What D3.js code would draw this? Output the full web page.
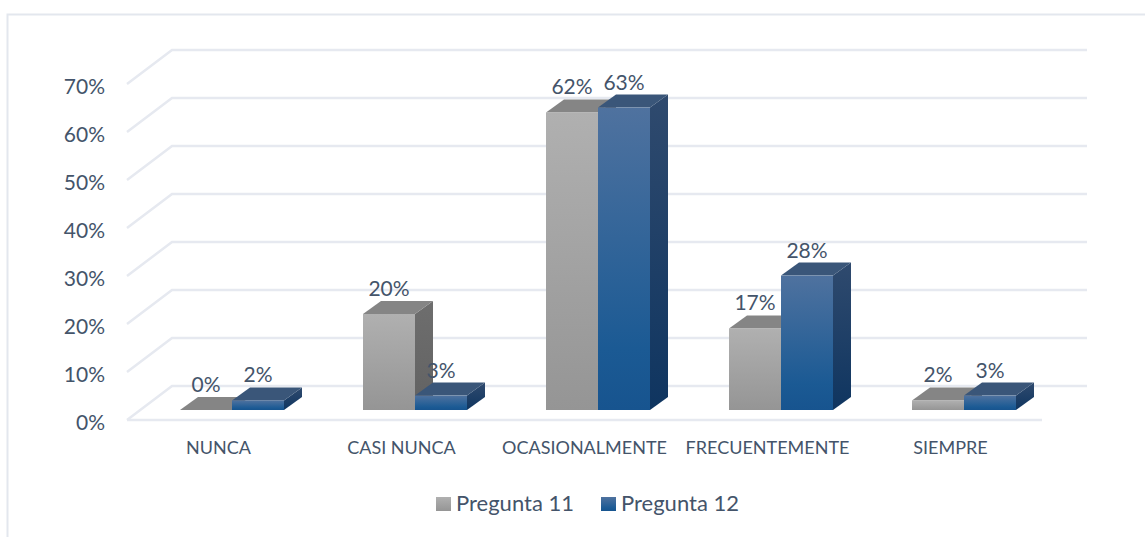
<!DOCTYPE html>
<html><head><meta charset="utf-8">
<script src="https://cdn.jsdelivr.net/npm/d3@7/dist/d3.min.js"></script>
<style>html,body{margin:0;background:#fff}svg{display:block}text{font-family:Lato,"Open Sans",sans-serif;fill:#44546a}</style>
</head><body><div id="c"></div>
<script>
const categories=["NUNCA","CASI NUNCA","OCASIONALMENTE","FRECUENTEMENTE","SIEMPRE"];
const seriesNames=["Pregunta 11","Pregunta 12"];
const pregunta11=[0,20,62,17,2];
const pregunta12=[2,3,63,28,3];
const yTicks=[0,10,20,30,40,50,60,70];

const W=1145,H=537;
const svg=d3.select("#c").append("svg").attr("width",W).attr("height",H);
const defs=svg.append("defs");
function grad(id,stops){const g=defs.append("linearGradient").attr("id",id).attr("x1",0).attr("y1",0).attr("x2",0).attr("y2",1);
 stops.forEach(([o,c])=>g.append("stop").attr("offset",o).attr("stop-color",c));}
grad("gFront0",[[0,"#b0b0b0"],[1,"#959595"]]);grad("gSide0",[[0,"#6e6e6e"],[1,"#626262"]]);
grad("gFront1",[[0,"#4f729f"],[0.8,"#1b5a94"],[1,"#17548f"]]);grad("gSide1",[[0,"#2f4a6e"],[1,"#0f3560"]]);
const topCol=["#858585","#3a5679"];

const y=d3.scaleLinear().domain([0,70]).range([410,74]);
const x0=d3.scaleBand().domain(categories).range([140.5,1055.5]);
const barW=52;
const x1=d3.scaleBand().domain([0,1]).range([-barW,barW]);
const dx=18,dy=13;
const wallUp=24,floorDown=10;
const fl=127,wl=172,wr=1087,fr=1042;

// frame
svg.append("path").attr("d","M7.5,537V14.5H1145").attr("fill","none").attr("stroke","#e3e7ee").attr("stroke-width",2);

// gridlines
const gridCol="#e6e9f0";
svg.append("g").selectAll("path").data(yTicks).join("path")
 .attr("d",v=>`M${fl},${y(v)+floorDown}L${wl},${y(v)-wallUp}H${wr}`)
 .attr("fill","none").attr("stroke",gridCol).attr("stroke-width",2.5);
svg.append("path").attr("d",`M${fl},${y(0)+floorDown}H${fr}`).attr("fill","none").attr("stroke",gridCol).attr("stroke-width",2.5);

// y axis
svg.append("g").selectAll("text").data(yTicks).join("text")
 .attr("x",105).attr("y",v=>y(v)+19.5).attr("text-anchor","end").attr("font-size",21).text(v=>v+"%");

// bars
const series=[pregunta11,pregunta12];
series.forEach((vals,s)=>{
 const g=svg.append("g");
 categories.forEach((c,i)=>{
  const l=x0(c)+x0.bandwidth()/2+x1(s),r=l+barW,t=y(vals[i]),b=y(0);
  g.append("path").attr("d",`M${r},${t}L${r+dx},${t-dy}V${b-dy}L${r},${b}Z`).attr("fill",`url(#gSide${s})`);
  g.append("path").attr("d",`M${l},${t}L${l+dx},${t-dy}H${r+dx}L${r},${t}Z`).attr("fill",topCol[s]);
  if(vals[i]>0) g.append("rect").attr("x",l).attr("y",t).attr("width",barW).attr("height",b-t).attr("fill",`url(#gFront${s})`);
 });
});
// labels
series.forEach((vals,s)=>{
 svg.append("g").selectAll("text").data(categories).join("text")
  .attr("x",c=>x0(c)+x0.bandwidth()/2+x1(s)+barW/2).attr("y",(c,i)=>y(vals[i])-18)
  .attr("text-anchor","middle").attr("font-size",21).text((c,i)=>vals[i]+"%");
});
// category labels
svg.append("g").selectAll("text").data(categories).join("text")
 .attr("x",c=>x0(c)+x0.bandwidth()/2-13.5).attr("y",454).attr("text-anchor","middle").attr("font-size",18).text(c=>c);
// legend
const lx=[436,601];
seriesNames.forEach((n,s)=>{
 svg.append("rect").attr("x",lx[s]).attr("y",497).attr("width",15).attr("height",14).attr("fill",`url(#gFront${s})`);
 svg.append("text").attr("x",lx[s]+20).attr("y",511).attr("font-size",22).text(n);
});
</script></body></html>
